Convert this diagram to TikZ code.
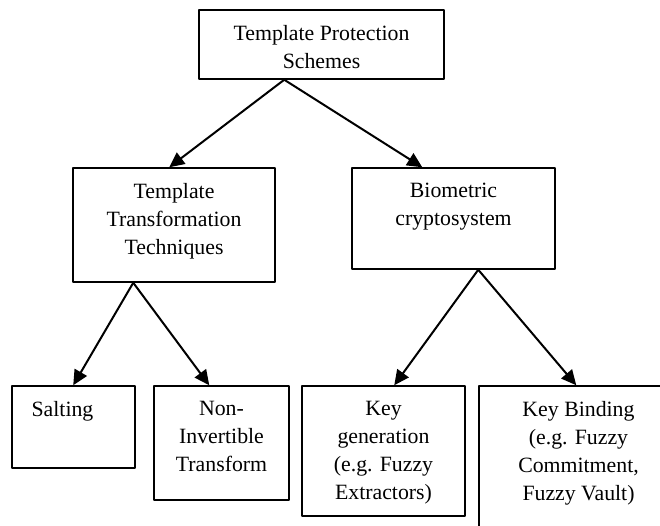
\documentclass[tikz,border=0pt]{standalone}
\usepackage{fontspec}
\setmainfont{Liberation Serif}
\usetikzlibrary{positioning,arrows.meta}
\tikzset{every picture/.style={line width=1.5pt},
	box/.style={draw, rectangle, inner sep=0pt},
	txt/.style={align=center, inner sep=0pt, anchor=north}}

\begin{document}
\begin{tikzpicture}[x=1pt, y=-1pt, line join=round, >={Triangle[length=15pt,width=14pt]}, font=\fontsize{21.8}{28}\selectfont]
				\useasboundingbox (0,0) rectangle (660,526);
				\clip (0,0) rectangle (660,526);
				% boxes
				\node[box, minimum width=245, minimum height=69] (tps) at (321.5,44.5) {};
				\node[box, minimum width=202, minimum height=114] (ttt) at (174,225) {};
				\node[box, minimum width=203, minimum height=101] (bio) at (453.5,218.5) {};
				\node[box, minimum width=123, minimum height=82] (salt) at (73.5,427) {};
				\node[box, minimum width=135, minimum height=114] (nit) at (221.5,443) {};
				\node[box, minimum width=163, minimum height=130] (kgen) at (383.5,451) {};
				\node[box, minimum width=241, minimum height=160] (kbind) at (599.5,466) {};
				% texts
				\node[txt, below=15pt of tps.north] (tps-t) {Template Protection\\Schemes};
				\node[txt, below=15pt of ttt.north] (ttt-t) {Template\\Transformation\\Techniques};
				\node[txt, below=15pt of bio.north] (bio-t) {Biometric\\cryptosystem};
				\node[txt, below=15pt of salt.north, xshift=-11pt] (salt-t) {Salting};
				\node[txt, below=15pt of nit.north] (nit-t) {Non-\\Invertible\\Transform};
				\node[txt, below=15pt of kgen.north] (kgen-t) {Key\\generation\\(e.g. Fuzzy\\Extractors)};
				\node[txt, below=15pt of kbind.north, xshift=-21pt] (kbind-t) {Key Binding\\(e.g. Fuzzy\\Commitment,\\Fuzzy Vault)};
				% arrows
				\foreach \f/\a/\t/\b in {tps/86/ttt/97, tps/86/bio/71, ttt/61/salt/62, ttt/61/nit/56, bio/127/kgen/93, bio/127/kbind/98}
					\draw[->, line width=2pt] ([xshift=\a]\f.south west) -- ([xshift=\b]\t.north west);
			\end{tikzpicture}
\end{document}
